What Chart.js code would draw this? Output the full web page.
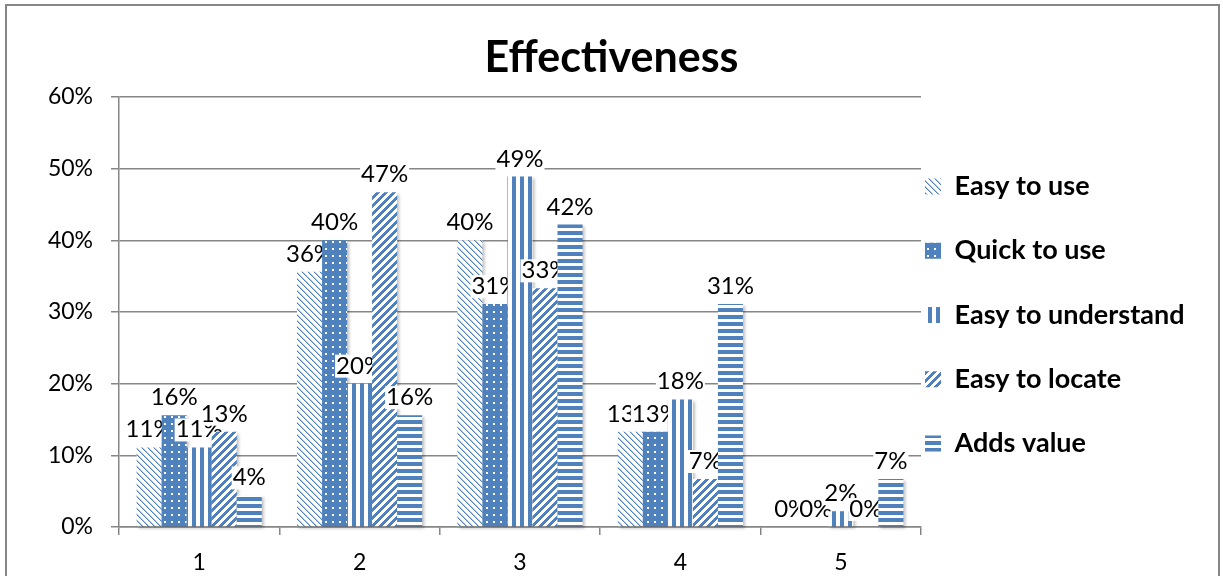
<!DOCTYPE html>
<html>
<head>
<meta charset="utf-8">
<title>Effectiveness</title>
<script src="https://cdn.jsdelivr.net/npm/chart.js@4/dist/chart.umd.min.js"></script>
<style>
  html, body { margin: 0; padding: 0; background: #fff; }
  canvas { display: block; }
</style>
</head>
<body>
<canvas id="chart" width="1223" height="576"></canvas>
<script>
// Survey ratings 1..5, share of respondents per rating (percent)
const categories = ['1', '2', '3', '4', '5'];
const seriesNames = ['Easy to use', 'Quick to use', 'Easy to understand', 'Easy to locate', 'Adds value'];
const easyToUse        = [11.1, 35.6, 40.0, 13.3, 0];
const quickToUse       = [15.6, 40.0, 31.1, 13.3, 0];
const easyToUnderstand = [11.1, 20.0, 48.9, 17.8, 2.2];
const easyToLocate     = [13.3, 46.7, 33.3, 6.7, 0];
const addsValue        = [4.4, 15.6, 42.2, 31.1, 6.7];
const yTicks = [0, 10, 20, 30, 40, 50, 60];

const seriesValues = [easyToUse, quickToUse, easyToUnderstand, easyToLocate, addsValue];

const BLUE = '#4F81BD';
const GRID = '#868686';
const canvas = document.getElementById('chart');
const ctx = canvas.getContext('2d');

// Build a repeating fill from a small pixel tile
function pixelPattern(w, h, colorAt) {
  const tile = document.createElement('canvas');
  tile.width = w; tile.height = h;
  const g = tile.getContext('2d');
  for (let y = 0; y < h; y++) {
    for (let x = 0; x < w; x++) {
      g.fillStyle = colorAt(x, y);
      g.fillRect(x, y, 1, 1);
    }
  }
  return ctx.createPattern(tile, 'repeat');
}

const fills = [
  // thin downward diagonals
  pixelPattern(6, 6, (x, y) => {
    const d = ((x - y) % 6 + 6) % 6;
    return d === 0 ? BLUE : (d === 1 ? '#b3c7e1' : '#ffffff');
  }),
  // solid with small white dots
  pixelPattern(7, 7, (x, y) => (x >= 3 && x < 5 && y >= 3 && y < 5) ? '#ffffff' : BLUE),
  // wide vertical stripes
  pixelPattern(8, 8, (x, y) => x < 4 ? BLUE : '#ffffff'),
  // wide upward diagonals
  pixelPattern(8, 8, (x, y) => ((x + y) % 8) < 4 ? BLUE : '#ffffff'),
  // wide horizontal stripes
  pixelPattern(7, 7, (x, y) => y < 4 ? BLUE : '#ffffff')
];

// Page background and outer frame
const frame = {
  id: 'frame',
  beforeDraw(chart) {
    const c = chart.ctx;
    c.save();
    c.fillStyle = '#fff';
    c.fillRect(0, 0, chart.width, chart.height);
    c.strokeStyle = GRID;
    c.lineWidth = 2;
    c.strokeRect(6, 5, chart.width - 10, chart.height + 20);
    c.restore();
  }
};

// Pull the legend column close to the plot edge
const legendPlacement = {
  id: 'legendPlacement',
  afterLayout(chart) {
    const lg = chart.legend;
    const pad = lg.options.labels.padding;
    lg.left = chart.chartArea.right + 4 - pad;
    lg.right = lg.left + lg.width;
    lg.top += 3;
    lg.bottom += 3;
  }
};

// Draw each series, then its value labels, so later series overlap earlier labels
const layeredBars = {
  id: 'layeredBars',
  beforeDatasetsDraw(chart) {
    const c = chart.ctx;
    const area = chart.chartArea;
    chart.data.datasets.forEach((ds, i) => {
      const meta = chart.getDatasetMeta(i);
      c.save();
      c.shadowColor = 'rgba(0,0,0,0.25)';
      c.shadowBlur = 3;
      c.shadowOffsetX = 2;
      c.shadowOffsetY = 2;
      meta.data.forEach(bar => bar.draw(c, area));
      c.restore();

      c.save();
      c.font = '24px Lato';
      c.textAlign = 'center';
      c.textBaseline = 'alphabetic';
      meta.data.forEach((bar, j) => {
        const txt = Math.round(ds.data[j]) + '%';
        const w = c.measureText(txt).width;
        const base = bar.y - 10;
        c.fillStyle = '#fff';
        c.fillRect(bar.x - w / 2 - 1, base - 19, w + 2, 23);
        c.fillStyle = '#000';
        c.fillText(txt, bar.x, base);
      });
      c.restore();
    });
    return false;
  }
};

new Chart(ctx, {
  type: 'bar',
  data: {
    labels: categories,
    datasets: seriesNames.map((name, i) => ({
      label: name,
      data: seriesValues[i],
      backgroundColor: fills[i],
      borderWidth: 0,
      categoryPercentage: 0.78,
      barPercentage: 1
    }))
  },
  options: {
    responsive: false,
    animation: false,
    events: [],
    layout: { padding: { top: 5, right: 0, bottom: 0, left: 0 } },
    plugins: {
      title: {
        display: true,
        text: 'Effectiveness',
        color: '#000',
        font: { family: 'Lato', size: 43, weight: 'bold', lineHeight: 1.2 },
        padding: { top: 27.7, bottom: 12.7 }
      },
      legend: {
        position: 'right',
        fullSize: false,
        align: 'center',
        maxWidth: 302,
        labels: {
          boxWidth: 16,
          boxHeight: 16,
          padding: 37.25,
          color: '#000',
          font: { family: 'Lato', size: 27, weight: 'bold' }
        }
      },
      tooltip: { enabled: false }
    },
    scales: {
      x: {
        grid: { display: true, drawOnChartArea: false, drawTicks: true, tickLength: 8, color: GRID, lineWidth: 1.5, offset: true },
        border: { color: GRID, width: 1.5 },
        ticks: { color: '#000', font: { family: 'Lato', size: 23 }, padding: 14 },
        afterFit(scale) { scale.height = 49; }
      },
      y: {
        min: yTicks[0],
        max: yTicks[yTicks.length - 1],
        ticks: {
          stepSize: yTicks[1] - yTicks[0],
          callback: v => v + '%',
          color: '#000',
          font: { family: 'Lato', size: 23 },
          padding: 18
        },
        grid: { color: GRID, lineWidth: 1.5, tickLength: 8 },
        border: { color: GRID, width: 1.5 },
        afterFit(scale) { scale.width = 119; }
      }
    }
  },
  plugins: [frame, legendPlacement, layeredBars]
});
</script>
</body>
</html>
